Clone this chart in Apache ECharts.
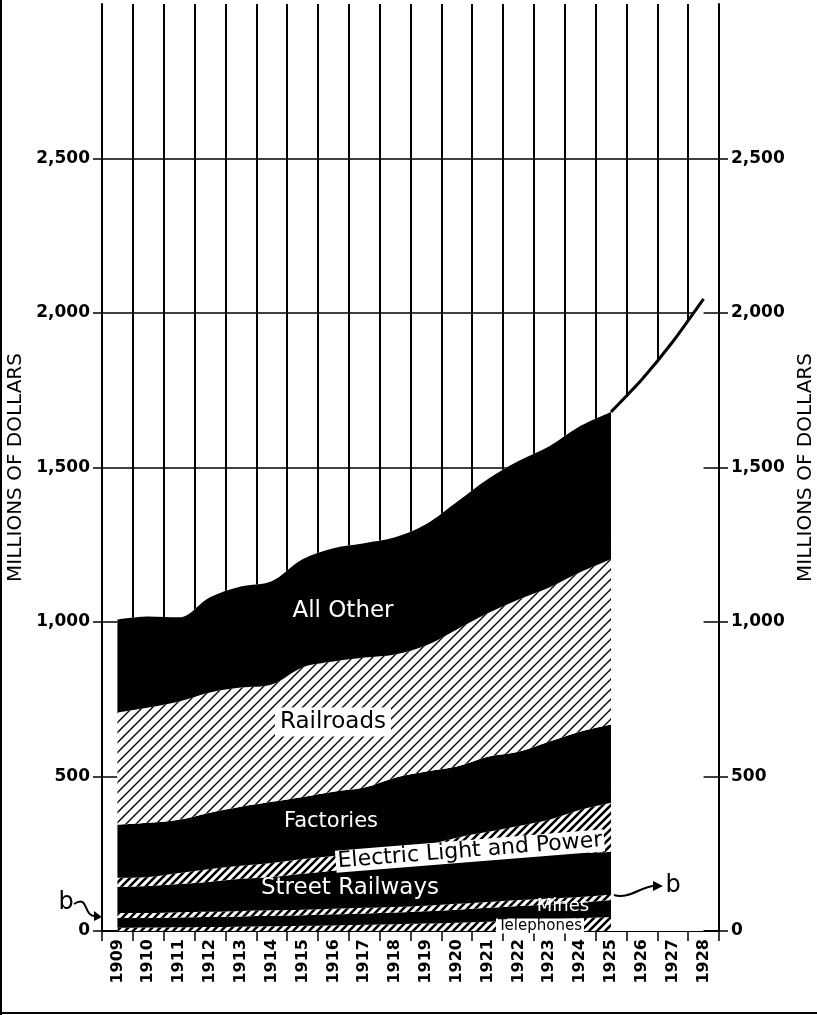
<!DOCTYPE html>
<html>
<head>
<meta charset="utf-8">
<script src="https://cdn.jsdelivr.net/npm/echarts@6/dist/echarts.min.js"></script>
<style>
  html, body { margin: 0; padding: 0; background: #fff; }
  #chart { width: 817px; height: 1015px; }
</style>
</head>
<body>
<div id="chart"></div>
<script>
// years on the axis (the stacked data stops at 1925, the total line runs on to 1928)
var years = ['1909', '1910', '1911', '1912', '1913', '1914', '1915', '1916', '1917', '1918',
  '1919', '1920', '1921', '1922', '1923', '1924', '1925', '1926', '1927', '1928']

// millions of dollars, bottom layer first
var telephones = [10, 11, 12, 13, 14, 15, 17, 18, 20, 22, 24, 27, 30, 33, 37, 41, 45]
var mines = [32, 31, 32, 32, 33, 34, 34, 36, 37, 38, 40, 42, 45, 48, 49, 51, 55]
var footnoteB = [16, 16, 17, 17, 18, 18, 18, 18, 18, 18, 18, 19, 19, 19, 19, 18, 17]
var streetRailways = [85, 88, 91, 97, 104, 108, 116, 123, 133, 139, 145, 149, 149, 146, 145, 143, 139]
var electricLightPower = [29, 29, 36, 42, 42, 45, 48, 48, 48, 52, 52, 65, 78, 94, 110, 139, 159]
var factories = [172, 175, 172, 182, 191, 198, 201, 208, 208, 227, 237, 230, 243, 240, 253, 253, 253]
var railroads = [363, 373, 383, 389, 386, 380, 419, 421, 421, 399, 408, 444, 464, 493, 499, 516, 535]
var allOther = [301, 295, 272, 308, 327, 334, 350, 367, 370, 379, 392, 412, 434, 448, 457, 473, 477]
// total, 1909-1928
var totals = [1008, 1018, 1015, 1080, 1115, 1132, 1203, 1239, 1255, 1274, 1316, 1388, 1462, 1521,
  1569, 1634, 1680, 1785, 1907, 2046]

var yTicks = [0, 500, 1000, 1500, 2000, 2500, 3000]

var FONT = '"DejaVu Sans", sans-serif'

// diagonal hatching
function hatch (size, width) {
  var c = document.createElement('canvas')
  c.width = size
  c.height = size
  var g = c.getContext('2d')
  g.fillStyle = '#fff'
  g.fillRect(0, 0, size, size)
  g.strokeStyle = '#000'
  g.lineWidth = width
  g.beginPath()
  g.moveTo(0, size); g.lineTo(size, 0)
  g.moveTo(-size / 2, size / 2); g.lineTo(size / 2, -size / 2)
  g.moveTo(size / 2, size * 1.5); g.lineTo(size * 1.5, size / 2)
  g.stroke()
  return { image: c, repeat: 'repeat' }
}
var fineHatch = hatch(10, 1.4)
var thickHatch = hatch(8, 2.6)

function layer (name, data, fill) {
  return {
    name: name,
    type: 'line',
    stack: 'total',
    smooth: 0.35,
    symbol: 'none',
    z: 2,
    lineStyle: { width: 0 },
    areaStyle: { color: fill, opacity: 1 },
    emphasis: { disabled: true },
    data: data
  }
}

var chart = echarts.init(document.getElementById('chart'))

var yAxisBase = {
  type: 'value',
  min: yTicks[0],
  max: yTicks[yTicks.length - 1],
  interval: 500,
  axisLine: { show: true, lineStyle: { color: '#000', width: 2 } },
  axisTick: { show: true, length: 9, lineStyle: { color: '#000', width: 1.5 } },
  axisLabel: {
    showMaxLabel: false,
    color: '#000',
    fontFamily: FONT,
    fontSize: 17,
    fontWeight: 'bold',
    margin: 12,
    formatter: function (v) { return String(v).replace(/\B(?=(\d{3})+$)/g, ',') }
  },
  name: 'MILLIONS OF DOLLARS',
  nameLocation: 'middle',
  nameRotate: 90,
  nameTextStyle: { color: '#000', fontFamily: FONT, fontSize: 20 }
}

var option = {
  animation: false,
  backgroundColor: '#fff',
  grid: { left: 102, right: 98, top: 4, bottom: 84, outerBoundsMode: 'none', containLabel: false },
  xAxis: {
    type: 'category',
    data: years,
    boundaryGap: true,
    axisLine: { show: true, lineStyle: { color: '#000', width: 2 } },
    axisTick: { show: true, interval: 0, length: 10, lineStyle: { color: '#000', width: 1.5 } },
    axisLabel: {
      interval: 0,
      rotate: 90,
      margin: 8,
      color: '#000',
      fontFamily: FONT,
      fontSize: 16,
      fontWeight: 'bold'
    },
    splitLine: { show: true, interval: 0, lineStyle: { color: '#000', width: 2 } }
  },
  yAxis: [
    Object.assign({}, yAxisBase, {
      position: 'left',
      nameGap: 69,
      splitLine: { show: true, showMaxLine: false, lineStyle: { color: '#000', width: 1.5 } }
    }),
    Object.assign({}, yAxisBase, {
      position: 'right',
      nameGap: 75,
      splitLine: { show: false }
    })
  ],
  series: [
    // white under the total curve so the grid only shows above it
    {
      name: 'cover',
      type: 'line',
      smooth: 0.35,
      symbol: 'none',
      z: 1,
      lineStyle: { width: 0 },
      areaStyle: { color: '#fff', opacity: 1 },
      emphasis: { disabled: true },
      data: totals
    },
    layer('Telephones', telephones, thickHatch),
    layer('Mines', mines, '#000'),
    layer('b', footnoteB, thickHatch),
    layer('Street Railways', streetRailways, '#000'),
    layer('Electric Light and Power', electricLightPower, thickHatch),
    layer('Factories', factories, '#000'),
    layer('Railroads', railroads, fineHatch),
    layer('All Other', allOther, '#000'),
    {
      name: 'Total',
      type: 'line',
      smooth: 0.2,
      symbol: 'none',
      z: 3,
      lineStyle: { color: '#000', width: 3 },
      emphasis: { disabled: true },
      data: totals.map(function (v, i) { return i >= 16 ? v : null })
    }
  ],
  graphic: [
    { type: 'line', z: 100, shape: { x1: 1, y1: 0, x2: 1, y2: 1015 }, style: { stroke: '#000', lineWidth: 2 } },
    { type: 'line', z: 100, shape: { x1: 0, y1: 1013, x2: 817, y2: 1013 }, style: { stroke: '#000', lineWidth: 2 } },
    { type: 'text', z: 100, x: 343, y: 611, style: { text: 'All Other', align: 'center', verticalAlign: 'middle', fill: '#fff', font: '23px ' + FONT } },
    { type: 'text', z: 100, x: 333, y: 722, style: { text: 'Railroads', align: 'center', verticalAlign: 'middle', fill: '#000', font: '23px ' + FONT, backgroundColor: '#fff', padding: [3, 5] } },
    { type: 'text', z: 100, x: 331, y: 822, style: { text: 'Factories', align: 'center', verticalAlign: 'middle', fill: '#fff', font: '21px ' + FONT } },
    { type: 'text', z: 100, x: 470, y: 851, rotation: 0.08, style: { text: 'Electric Light and Power', align: 'center', verticalAlign: 'middle', fill: '#000', font: '22px ' + FONT, backgroundColor: '#fff', padding: [0, 2] } },
    { type: 'text', z: 100, x: 350, y: 888, style: { text: 'Street Railways', align: 'center', verticalAlign: 'middle', fill: '#fff', font: '23px ' + FONT } },
    { type: 'text', z: 100, x: 563, y: 906, style: { text: 'Mines', align: 'center', verticalAlign: 'middle', fill: '#fff', font: '18px ' + FONT } },
    { type: 'text', z: 100, x: 540, y: 926, style: { text: 'Telephones', align: 'center', verticalAlign: 'middle', fill: '#000', font: '15px ' + FONT, backgroundColor: '#fff', padding: [0, 2] } },
    // footnote b, left
    { type: 'text', z: 100, x: 66, y: 903, style: { text: 'b', align: 'center', verticalAlign: 'middle', fill: '#000', font: '24px ' + FONT } },
    { type: 'bezierCurve', z: 100, shape: { x1: 74, y1: 904, cpx1: 90, cpy1: 894, cpx2: 82, cpy2: 918, x2: 97, y2: 916 }, style: { stroke: '#000', lineWidth: 2, fill: null } },
    { type: 'polygon', z: 100, shape: { points: [[102, 917], [94, 911], [94, 921]] }, style: { fill: '#000' } },
    // footnote b, right
    { type: 'bezierCurve', z: 100, shape: { x1: 614, y1: 895, cpx1: 628, cpy1: 900, cpx2: 642, cpy2: 886, x2: 654, y2: 886 }, style: { stroke: '#000', lineWidth: 2, fill: null } },
    { type: 'polygon', z: 100, shape: { points: [[663, 886], [653, 881], [653, 891]] }, style: { fill: '#000' } },
    { type: 'text', z: 100, x: 673, y: 886, style: { text: 'b', align: 'center', verticalAlign: 'middle', fill: '#000', font: '24px ' + FONT } }
  ]
}

chart.setOption(option)
</script>
</body>
</html>
